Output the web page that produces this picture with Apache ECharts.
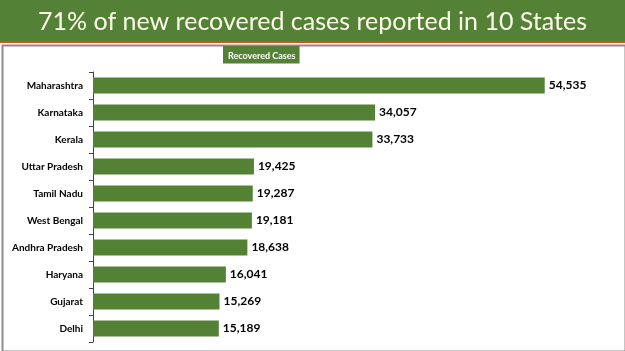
<!DOCTYPE html>
<html>
<head>
<meta charset="utf-8">
<script src="https://cdn.jsdelivr.net/npm/echarts@6/dist/echarts.min.js"></script>
<style>
  html, body { margin: 0; padding: 0; background: #fff; }
  #chart { width: 625px; height: 351px; }
</style>
</head>
<body>
<div id="chart"></div>
<script>
const states = ['Maharashtra', 'Karnataka', 'Kerala', 'Uttar Pradesh', 'Tamil Nadu',
  'West Bengal', 'Andhra Pradesh', 'Haryana', 'Gujarat', 'Delhi'];
const recovered = [54535, 34057, 33733, 19425, 19287, 19181, 18638, 16041, 15269, 15189];
const seriesName = 'Recovered Cases';
const titleText = '71% of new recovered cases reported in 10 States';

const myChart = echarts.init(document.getElementById('chart'));

const option = {
  backgroundColor: '#fff',
  animation: false,
  graphic: [
    // title band
    { type: 'rect', left: 0, top: 0, shape: { width: 625, height: 41 }, style: { fill: '#538135' }, z: 0 },
    { type: 'rect', left: 0, top: 41, shape: { width: 625, height: 2 }, style: { fill: '#c55a11' }, z: 0 },
    // frame
    { type: 'rect', left: 0, top: 43, shape: { x: 0, y: 0, width: 623, height: 306 },
      style: { fill: 'none', stroke: '#8c8c8c', lineWidth: 2 }, z: 0 }
  ],
  title: {
    text: titleText,
    left: 'center',
    top: 4,
    textStyle: {
      color: '#fdfbe9',
      fontFamily: 'Lato',
      fontWeight: 'normal',
      fontSize: 25
    }
  },
  legend: {
    data: [seriesName],
    left: 223,
    top: 46,
    icon: 'none',
    itemWidth: 0,
    itemGap: 0,
    padding: [3, 4, 3, 0],
    backgroundColor: '#548235',
    textStyle: {
      color: '#fff',
      fontWeight: 'bold',
      fontFamily: 'Lato',
      fontSize: 9
    }
  },
  grid: {
    left: 93,
    top: 72,
    width: 497,
    height: 270
  },
  xAxis: {
    type: 'value',
    min: 0,
    max: 60000,
    show: false
  },
  yAxis: {
    type: 'category',
    inverse: true,
    data: states,
    axisLine: { lineStyle: { color: '#444', width: 1 } },
    axisTick: { show: true, length: 4, lineStyle: { color: '#444' } },
    axisLabel: {
      color: '#000',
      fontWeight: 'bold',
      fontSize: 10,
      fontFamily: 'Lato',
      margin: 10
    }
  },
  series: [{
    name: seriesName,
    type: 'bar',
    data: recovered,
    barWidth: 16,
    itemStyle: { color: '#548235' },
    label: {
      show: true,
      position: 'right',
      distance: 4,
      color: '#000',
      fontWeight: 'bold',
      fontSize: 12,
      fontFamily: 'Lato',
      formatter: p => p.value.toLocaleString('en-US')
    }
  }]
};

myChart.setOption(option);
</script>
</body>
</html>
